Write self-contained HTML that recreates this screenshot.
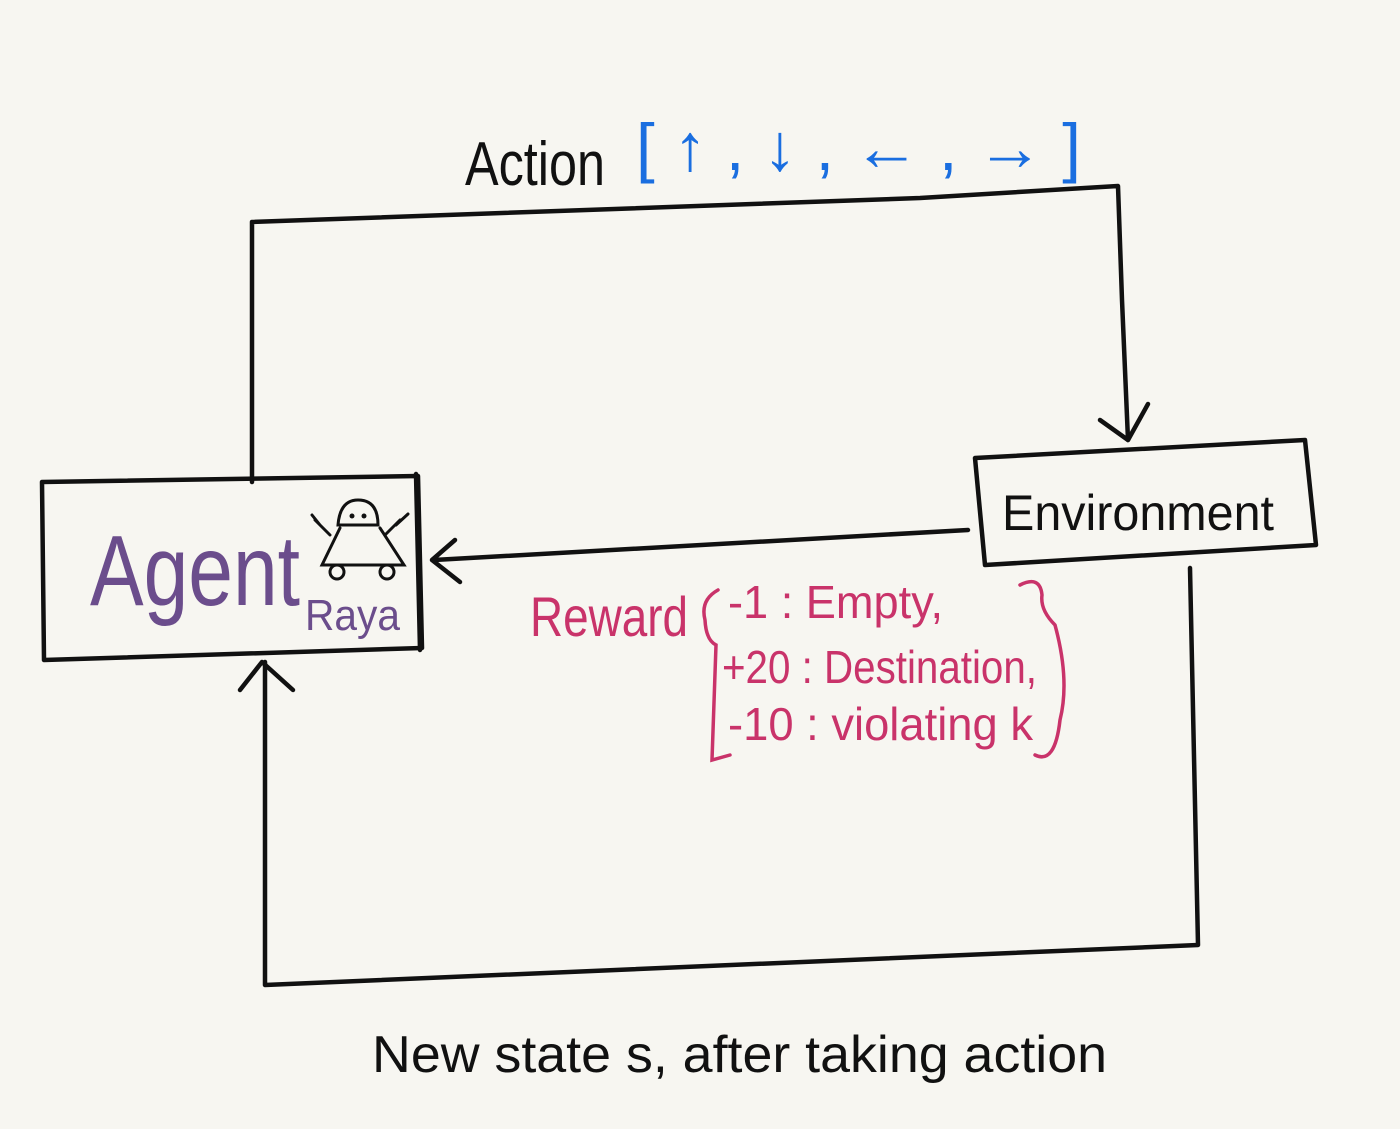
<!DOCTYPE html>
<html><head><meta charset="utf-8"><style>
html,body{margin:0;padding:0;background:#f7f6f1;}
svg{display:block}
text{font-family:"Liberation Sans",sans-serif;}
</style></head><body>
<svg width="1400" height="1129" viewBox="0 0 1400 1129" xmlns="http://www.w3.org/2000/svg">
<rect width="1400" height="1129" fill="#f7f6f1"/>
<g fill="none" stroke="#111" stroke-width="4.5" stroke-linecap="round" stroke-linejoin="round">
<!-- top action loop -->
<path d="M252 482 L252 222 L920 198 L1118 186 L1122 300 L1128 440"/>
<path d="M1100 420 L1128 440 L1148 404"/>
<!-- agent box -->
<path d="M42 482 L418 476 L422 648 L44 660 Z"/>
<path d="M416 474 L420 650"/>
<!-- environment box -->
<path d="M975 458 L1305 440 L1316 545 L985 565 Z"/>
<!-- reward arrow -->
<path d="M968 530 L434 560"/>
<path d="M455 540 L432 560 L460 582"/>
<!-- bottom loop -->
<path d="M1190 568 L1198 945 L265 985 L265 662"/>
<path d="M240 690 L262 662 L293 690"/>
</g>
<!-- robot -->
<g fill="none" stroke="#111" stroke-width="3" stroke-linecap="round">
<path d="M338 525 Q340 500 358 500 Q378 500 378 525 Z"/>
<path d="M340 528 L322 565 L404 565 L380 528"/>
<circle cx="337" cy="572" r="7"/><circle cx="387" cy="572" r="7"/>
<path d="M330 535 L315 520 M320 525 L312 515 M385 535 L400 520 M396 525 L408 514"/>
</g>
<circle cx="352" cy="516" r="2.5" fill="#111"/><circle cx="364" cy="516" r="2.5" fill="#111"/>
<!-- text -->
<text x="465" y="185" font-size="62" fill="#111" textLength="140" lengthAdjust="spacingAndGlyphs">Action</text>
<text x="636" y="170" font-size="66" fill="#1a6ee0" textLength="445" lengthAdjust="spacingAndGlyphs">[ ↑ , ↓ , ← , → ]</text>
<text x="90" y="605" font-size="100" fill="#6b4d8c" textLength="210" lengthAdjust="spacingAndGlyphs">Agent</text>
<text x="305" y="630" font-size="44" fill="#6b4d8c" textLength="95" lengthAdjust="spacingAndGlyphs">Raya</text>
<text x="1002" y="530" font-size="50" fill="#111" textLength="272" lengthAdjust="spacingAndGlyphs">Environment</text>
<text x="530" y="636" font-size="56" fill="#c9336a" textLength="158" lengthAdjust="spacingAndGlyphs">Reward</text>
<g fill="#c9336a">
<text x="728" y="618" font-size="46" textLength="215" lengthAdjust="spacingAndGlyphs">-1 : Empty,</text>
<text x="722" y="683" font-size="46" textLength="315" lengthAdjust="spacingAndGlyphs">+20 : Destination,</text>
<text x="728" y="740" font-size="46" textLength="305" lengthAdjust="spacingAndGlyphs">-10 : violating k</text>
</g>
<g fill="none" stroke="#c9336a" stroke-width="3.5" stroke-linecap="round">
<path d="M718 590 Q700 600 705 620 Q706 640 716 645 L712 760 L730 755"/>
<path d="M1020 585 Q1040 575 1042 595 Q1040 610 1055 625 Q1070 680 1060 720 Q1055 765 1035 755"/>
</g>
<text x="372" y="1072" font-size="52" fill="#111" textLength="735" lengthAdjust="spacingAndGlyphs">New state s, after taking action</text>
</svg>
</body></html>
